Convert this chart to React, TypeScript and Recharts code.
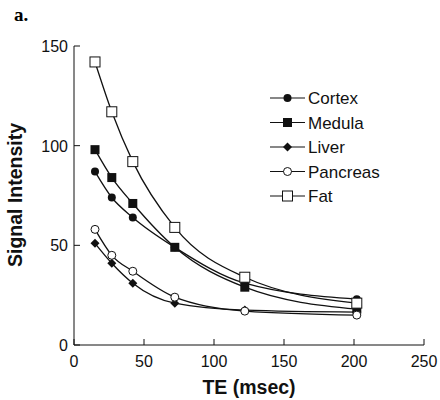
import React from 'react'
import { LineChart, Line, XAxis, YAxis } from 'recharts'

const te = [15, 27, 42, 72, 122, 202]
const cortex = [87, 74, 64, 49, 31, 23]
const medula = [98, 84, 71, 49, 29, 18]
const liver = [51, 41, 31, 21, 17.5, 16.5]
const pancreas = [58, 45, 37, 24, 17, 15]
const fat = [142, 117, 92, 59, 34, 21]

const xTicks = [0, 50, 100, 150, 200, 250]
const yTicks = [0, 50, 100, 150]

const data = te.map((t, i) => ({
  te: t,
  cortex: cortex[i],
  medula: medula[i],
  liver: liver[i],
  pancreas: pancreas[i],
  fat: fat[i],
}))

const FONT = 'Arial, "Liberation Sans", sans-serif'
const INK = '#111'

// markers
const Marker = ({ kind, cx, cy }: any) => {
  if (cx == null || cy == null) return null
  switch (kind) {
    case 'circle':
      return <circle cx={cx} cy={cy} r={4} fill={INK} />
    case 'square':
      return <rect x={cx - 4.5} y={cy - 4.5} width={9} height={9} fill={INK} />
    case 'diamond':
      return <polygon points={`${cx},${cy - 4.5} ${cx + 4.5},${cy} ${cx},${cy + 4.5} ${cx - 4.5},${cy}`} fill={INK} />
    case 'ocircle':
      return <circle cx={cx} cy={cy} r={4} fill="#fff" stroke={INK} strokeWidth={1} />
    default:
      return <rect x={cx - 5} y={cy - 5} width={10} height={10} fill="#fff" stroke={INK} strokeWidth={1} />
  }
}

const series = [
  { key: 'cortex', name: 'Cortex', kind: 'circle' },
  { key: 'medula', name: 'Medula', kind: 'square' },
  { key: 'liver', name: 'Liver', kind: 'diamond' },
  { key: 'pancreas', name: 'Pancreas', kind: 'ocircle' },
  { key: 'fat', name: 'Fat', kind: 'osquare' },
]

const TICK = 6
const MARGIN = 6

// ticks drawn inward
const BottomTick = ({ x, y, payload }: any) => (
  <g>
    <line x1={x} y1={y - MARGIN} x2={x} y2={y - MARGIN - TICK} stroke={INK} />
    <text x={x} y={y + 16} textAnchor="middle" fontSize={16} fontFamily={FONT} fill={INK}>
      {payload.value}
    </text>
  </g>
)
const LeftTick = ({ x, y, payload }: any) => (
  <g>
    <line x1={x + MARGIN} y1={y} x2={x + MARGIN + TICK} y2={y} stroke={INK} />
    <text x={x} y={y + 6} textAnchor="end" fontSize={16} fontFamily={FONT} fill={INK}>
      {payload.value}
    </text>
  </g>
)
const TopTick = ({ x, y }: any) => (
  <line x1={x} y1={y + MARGIN} x2={x} y2={y + MARGIN + TICK} stroke={INK} />
)
const RightTick = ({ x, y }: any) => (
  <line x1={x - MARGIN} y1={y} x2={x - MARGIN - TICK} y2={y} stroke={INK} />
)

const LegendBox = () => (
  <svg width={120} height={130} style={{ position: 'absolute', left: 268, top: 86 }}>
    {series.map((s, i) => {
      const cy = 12 + i * 24.5
      return (
        <g key={s.key}>
          <line x1={2} y1={cy} x2={37} y2={cy} stroke={INK} strokeWidth={1.2} />
          <Marker kind={s.kind} cx={19.5} cy={cy} />
          <text x={40} y={cy + 6} fontSize={17} fontFamily={FONT} fill={INK}>
            {s.name}
          </text>
        </g>
      )
    })}
  </svg>
)

const App = () => {
  return (
    <div style={{ position: 'absolute', left: 0, top: 0, width: 440, height: 400, background: '#fff' }}>
      <div
        style={{
          position: 'absolute', left: 14, top: 4, fontFamily: '"Liberation Serif", "Times New Roman", serif',
          fontWeight: 'bold', fontSize: 19,
        }}
      >
        a.
      </div>
      <LineChart width={440} height={400} data={data} margin={{ top: 46, right: 16, bottom: 0, left: 0 }}>
        <XAxis
          dataKey="te"
          type="number"
          domain={[0, 250]}
          ticks={xTicks}
          tickSize={0}
          tickMargin={MARGIN}
          tickLine={false}
          axisLine={{ stroke: INK }}
          tick={<BottomTick />}
          height={55}
          interval={0}
          label={{ value: 'TE (msec)', position: 'insideBottom', offset: 6, style: { fontSize: 19.5, fontWeight: 'bold', fontFamily: FONT, fill: INK } }}
        />
        <XAxis
          xAxisId="top"
          dataKey="te"
          type="number"
          orientation="top"
          domain={[0, 250]}
          ticks={xTicks}
          tickSize={0}
          tickMargin={MARGIN}
          tickLine={false}
          axisLine={{ stroke: INK }}
          tick={<TopTick />}
          height={0}
          interval={0}
        />
        <YAxis
          type="number"
          domain={[0, 150]}
          ticks={yTicks}
          tickSize={0}
          tickMargin={MARGIN}
          tickLine={false}
          axisLine={{ stroke: INK }}
          tick={<LeftTick />}
          width={74}
          interval={0}
        />
        <YAxis
          yAxisId="right"
          orientation="right"
          type="number"
          domain={[0, 150]}
          ticks={yTicks}
          tickSize={0}
          tickMargin={MARGIN}
          tickLine={false}
          axisLine={{ stroke: INK }}
          tick={<RightTick />}
          width={0}
          interval={0}
        />
        {series.map((s) => (
          <Line
            key={s.key}
            dataKey={s.key}
            name={s.name}
            type="monotone"
            stroke={INK}
            strokeWidth={1.3}
            dot={(p: any) => <Marker key={`${s.key}-${p.index}`} kind={s.kind} cx={p.cx} cy={p.cy} />}
            activeDot={false}
            isAnimationActive={false}
          />
        ))}
      </LineChart>
      <svg width={30} height={400} style={{ position: 'absolute', left: 0, top: 0 }}>
        <text
          transform="translate(22,195) rotate(-90)"
          textAnchor="middle"
          fontSize={19.5}
          fontWeight="bold"
          fontFamily={FONT}
          fill={INK}
        >
          Signal Intensity
        </text>
      </svg>
      <LegendBox />
    </div>
  )
}

export default App
